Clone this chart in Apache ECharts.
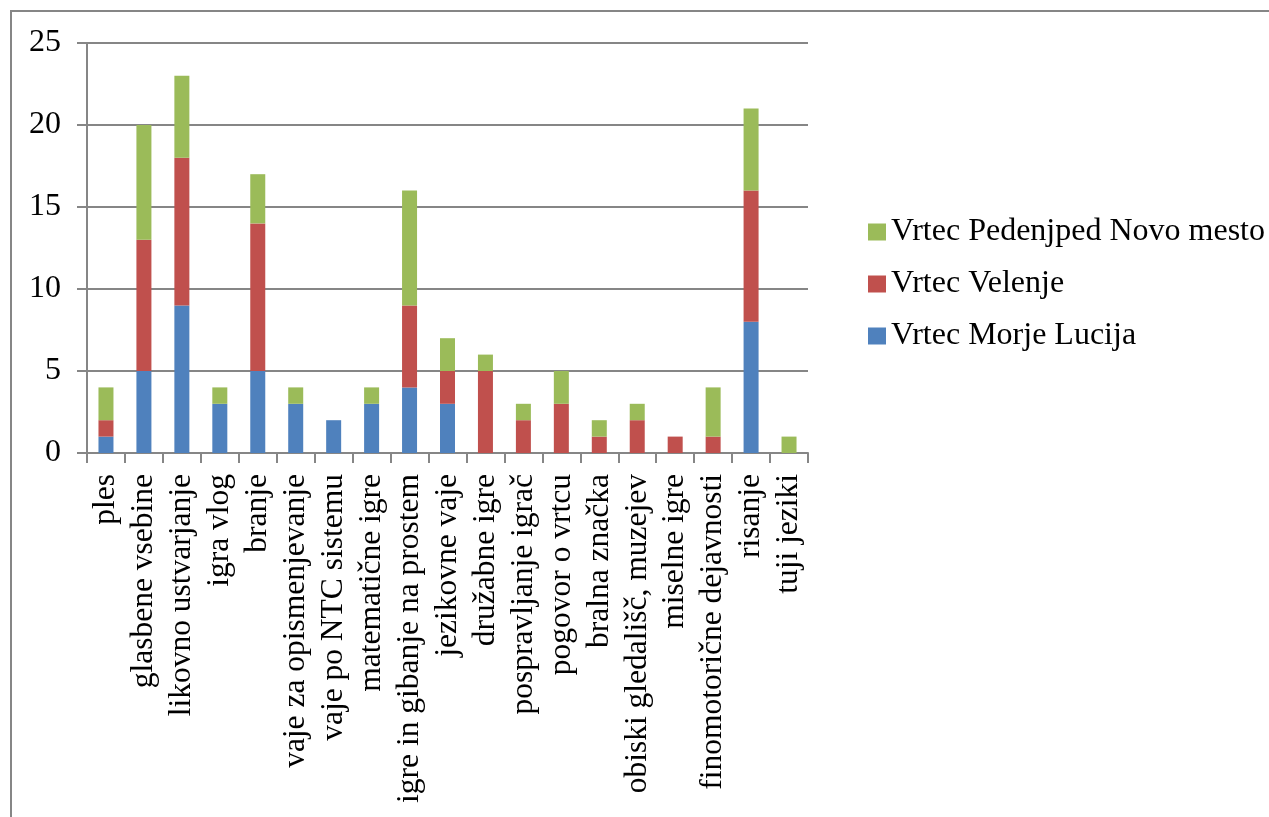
<!DOCTYPE html>
<html>
<head>
<meta charset="utf-8">
<script src="https://cdn.jsdelivr.net/npm/echarts@6/dist/echarts.min.js"></script>
<style>
  html, body { margin: 0; padding: 0; background: #fff; }
  #chart { width: 1269px; height: 817px; }
</style>
</head>
<body>
<div id="chart"></div>
<script>
// Activities named by kindergartens, counted per kindergarten
const categories = [
  'ples', 'glasbene vsebine', 'likovno ustvarjanje', 'igra vlog', 'branje',
  'vaje za opismenjevanje', 'vaje po NTC sistemu', 'matematične igre',
  'igre in gibanje na prostem', 'jezikovne vaje', 'družabne igre',
  'pospravljanje igrač', 'pogovor o vrtcu', 'bralna značka',
  'obiski gledališč, muzejev', 'miselne igre', 'finomotorične dejavnosti',
  'risanje', 'tuji jeziki'
];
const morjeLucija = [1, 5, 9, 3, 5, 3, 2, 3, 4, 3, 0, 0, 0, 0, 0, 0, 0, 8, 0];
const velenje     = [1, 8, 9, 0, 9, 0, 0, 0, 5, 2, 5, 2, 3, 1, 2, 1, 1, 8, 0];
const pedenjped   = [2, 7, 5, 1, 3, 1, 0, 1, 7, 2, 1, 1, 2, 1, 1, 0, 3, 5, 1];
const yTicks = [0, 5, 10, 15, 20, 25];

const seriesNames = ['Vrtec Morje Lucija', 'Vrtec Velenje', 'Vrtec Pedenjped Novo mesto'];
const seriesColors = ['#4F81BD', '#C0504D', '#9BBB59'];
const seriesData = [morjeLucija, velenje, pedenjped];

const serif = '"Liberation Serif", "DejaVu Serif", serif';
const gray = '#868686';

const chart = echarts.init(document.getElementById('chart'), null, { renderer: 'canvas' });

chart.setOption({
  animation: false,
  backgroundColor: '#fff',
  graphic: [{
    type: 'polyline',
    shape: { points: [[11, 830], [11, 11], [1290, 11]] },
    style: { stroke: gray, lineWidth: 2, fill: null },
    silent: true
  }],
  grid: { left: 87, top: 43, width: 721, height: 410 },
  legend: {
    orient: 'vertical',
    left: 863,
    top: 211,
    itemWidth: 18,
    itemHeight: 17,
    itemGap: 20,
    icon: 'rect',
    data: [seriesNames[2], seriesNames[1], seriesNames[0]],
    textStyle: { fontFamily: serif, fontSize: 32, lineHeight: 32, color: '#000', padding: [0, 0, 0, 0] }
  },
  xAxis: {
    type: 'category',
    data: categories,
    axisLine: { lineStyle: { color: gray, width: 2 } },
    axisTick: { show: true, alignWithLabel: false, length: 10, lineStyle: { color: gray, width: 2 } },
    axisLabel: {
      rotate: 90,
      interval: 0,
      margin: 21,
      fontFamily: serif,
      fontSize: 31.5,
      color: '#000'
    }
  },
  yAxis: {
    type: 'value',
    min: yTicks[0],
    max: yTicks[yTicks.length - 1],
    interval: 5,
    axisLine: { show: true, lineStyle: { color: gray, width: 2 } },
    axisTick: { show: true, length: 10, lineStyle: { color: gray, width: 2 } },
    splitLine: { show: true, lineStyle: { color: gray, width: 2 } },
    axisLabel: {
      margin: 26,
      fontFamily: serif,
      fontSize: 32,
      color: '#000'
    }
  },
  series: seriesNames.map((name, i) => ({
    name,
    type: 'bar',
    stack: 'total',
    barWidth: 15,
    data: seriesData[i],
    itemStyle: { color: seriesColors[i] }
  }))
});
</script>
</body>
</html>
